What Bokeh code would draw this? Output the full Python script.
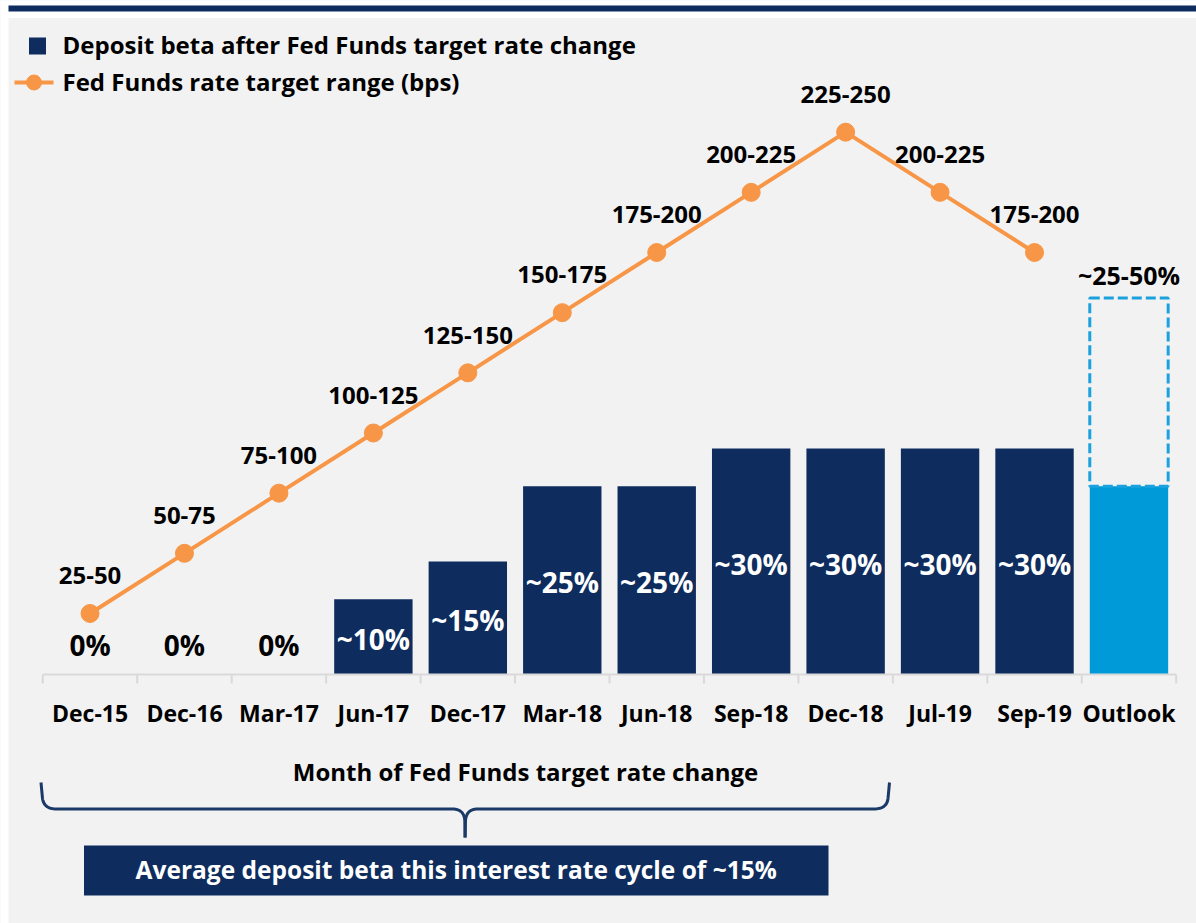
import numpy as np
from bokeh.plotting import figure
from bokeh.models import Range1d
from bokeh.core.properties import value
from bokeh.embed import file_html
from bokeh.resources import INLINE

# ---------------- data ----------------
categories = ["Dec-15", "Dec-16", "Mar-17", "Jun-17", "Dec-17", "Mar-18",
              "Jun-18", "Sep-18", "Dec-18", "Jul-19", "Sep-19", "Outlook"]
deposit_beta = [0, 0, 0, 10, 15, 25, 25, 30, 30, 30, 30, 25]
beta_labels = ["0%", "0%", "0%", "~10%", "~15%", "~25%", "~25%",
               "~30%", "~30%", "~30%", "~30%", ""]
fed_categories = ["Dec-15", "Dec-16", "Mar-17", "Jun-17", "Dec-17", "Mar-18",
                  "Jun-18", "Sep-18", "Dec-18", "Jul-19", "Sep-19"]
fed_low = [25, 50, 75, 100, 125, 150, 175, 200, 225, 200, 175]
fed_high = [50, 75, 100, 125, 150, 175, 200, 225, 250, 225, 200]
outlook_range = [25, 50]
outlook_label = "~25-50%"
legend_labels = ["Deposit beta after Fed Funds target rate change",
                 "Fed Funds rate target range (bps)"]
axis_title = "Month of Fed Funds target rate change"
callout_text = "Average deposit beta this interest rate cycle of ~15%"

# ---------------- styles ----------------
NAVY = "#0e2d5e"
BLUE = "#009ad9"
DASH_BLUE = "#1ba1de"
ORANGE = "#f79646"
BG = "#f2f2f2"
FONT = value("Open Sans")
SHIFT = 0.43        # empirical baseline correction (fraction of font size)

# pixel geometry of the page (used only for placement/decoration)
CW = 94.45          # category width in px
X_LEFT = 42.3       # page x of left category boundary
BASE = 674.0        # page y of the zero line
PPP = 7.53          # px per percentage point
BPS_ZERO = 733.3    # page y of 0 bps
PPB = 2.4065        # px per bp


def xd(px):
    return -0.5 + (px - X_LEFT) / CW


def yd(py):
    return (BASE - py) / PPP


def bd(py):
    return (BPS_ZERO - py) / PPB


W, H = 1196, 923
p = figure(width=W, height=H,
           x_range=Range1d(xd(0), xd(W)),
           y_range=Range1d(yd(H), yd(0)),
           output_backend="svg", toolbar_location=None,
           x_axis_location=None, y_axis_location=None,
           min_border=0, min_border_left=0, min_border_right=0,
           min_border_top=0, min_border_bottom=0,
           background_fill_color=BG, border_fill_color="white",
           outline_line_color=None)
p.extra_y_ranges = {"bps": Range1d(bd(H), bd(0))}
p.xgrid.visible = False
p.ygrid.visible = False

# page frame: white margins + navy top rule
p.quad(left=[xd(0)], right=[xd(W)], top=[yd(0)], bottom=[yd(17.5)],
       fill_color="white", line_color=None)
p.quad(left=[xd(0)], right=[xd(8)], top=[yd(0)], bottom=[yd(H)],
       fill_color="white", line_color=None)
p.quad(left=[xd(8)], right=[xd(W)], top=[yd(5)], bottom=[yd(11)],
       fill_color=NAVY, line_color=None)

# ---------------- bars ----------------
n = len(categories)
idx = list(range(n))
bar_colors = [BLUE if c == "Outlook" else NAVY for c in categories]
BAR_W = 0.83
p.vbar(x=idx, top=deposit_beta, bottom=0, width=BAR_W,
       fill_color=bar_colors, line_color=None)

oi = categories.index("Outlook")
p.quad(left=[oi - BAR_W / 2], right=[oi + BAR_W / 2],
       bottom=[outlook_range[0]], top=[outlook_range[1]],
       fill_alpha=0, line_color=DASH_BLUE, line_width=3, line_dash="10 4")
fs = 25
p.text(x=[oi], y=[outlook_range[1] + (12 + SHIFT * fs) / PPP], text=[outlook_label],
       text_font=FONT, text_font_style="bold", text_font_size=f"{fs}px",
       text_align="center", text_baseline="alphabetic", text_color="black")

# bar value labels
fs = 28
lab_y = [(v / 2 - (14 - SHIFT * fs) / PPP) if v else (17 + SHIFT * fs) / PPP
         for v in deposit_beta]
lab_c = ["white" if v else "black" for v in deposit_beta]
p.text(x=idx, y=lab_y, text=beta_labels, text_color=lab_c,
       text_font=FONT, text_font_style="bold", text_font_size=f"{fs}px",
       text_align="center", text_baseline="alphabetic")

# ---------------- axis ----------------
p.segment(x0=[-0.5], x1=[n - 0.5], y0=[0], y1=[0],
          line_color="#d9d9d9", line_width=2)
bounds = [i - 0.5 for i in range(n + 1)]
p.segment(x0=bounds, x1=bounds, y0=[0] * len(bounds),
          y1=[-9 / PPP] * len(bounds), line_color="#d9d9d9", line_width=2)
fs = 23
p.text(x=idx, y=[yd(722 - SHIFT * fs)] * n, text=categories, text_color="black",
       text_font=FONT, text_font_style="bold", text_font_size=f"{fs}px",
       text_align="center", text_baseline="alphabetic")

# ---------------- fed funds line ----------------
fidx = [categories.index(c) for c in fed_categories]
p.line(x=fidx, y=fed_high, y_range_name="bps", line_color=ORANGE, line_width=4)
p.scatter(x=fidx, y=fed_high, y_range_name="bps", size=18,
          fill_color=ORANGE, line_color=ORANGE)
fed_text = [f"{lo}-{hi}" for lo, hi in zip(fed_low, fed_high)]
fs = 24
p.text(x=fidx, y=[v + (27.5 + SHIFT * fs) / PPB for v in fed_high], y_range_name="bps",
       text=fed_text, text_color="black",
       text_font=FONT, text_font_style="bold", text_font_size=f"{fs}px",
       text_align="center", text_baseline="alphabetic")

# ---------------- legend (manual) ----------------
p.scatter(x=[xd(37)], y=[yd(45.5)], marker="square", size=17,
          fill_color=NAVY, line_color=None)
p.segment(x0=[xd(14)], x1=[xd(53)], y0=[yd(82)], y1=[yd(82)],
          line_color=ORANGE, line_width=4)
p.scatter(x=[xd(33.5)], y=[yd(82)], size=15, fill_color=ORANGE, line_color=ORANGE)
fs = 24
p.text(x=[xd(62), xd(62)], y=[yd(54 - SHIFT * fs), yd(91 - SHIFT * fs)], text=legend_labels,
       text_color="black", text_font=FONT, text_font_style="bold",
       text_font_size=f"{fs}px", text_align="left", text_baseline="alphabetic")

# ---------------- axis title + brace + callout ----------------
fs = 24
p.text(x=[xd(525)], y=[yd(781.5 - SHIFT * fs)], text=[axis_title], text_color="black",
       text_font=FONT, text_font_style="bold", text_font_size=f"{fs}px",
       text_align="center", text_baseline="alphabetic")


def qbez(p0, c, p1, k=16):
    t = np.linspace(0, 1, k)
    xs = (1 - t) ** 2 * p0[0] + 2 * (1 - t) * t * c[0] + t ** 2 * p1[0]
    ys = (1 - t) ** 2 * p0[1] + 2 * (1 - t) * t * c[1] + t ** 2 * p1[1]
    return list(xs), list(ys)


HY = 808.5
left_x, left_y = [40.5, 42.0], [782, 798]
bx, by = qbez((42.0, 798), (43.5, HY), (56, HY))
left_x += bx; left_y += by
left_x += [452]; left_y += [HY]
bx, by = qbez((452, HY), (463.5, HY), (464.3, 820))
left_x += bx; left_y += by
left_x += [464.6]; left_y += [837]

right_x, right_y = [464.6, 465.0], [837, 820]
bx, by = qbez((465.0, 820), (466, HY), (477, HY))
right_x += bx; right_y += by
right_x += [873]; right_y += [HY]
bx, by = qbez((873, HY), (886.5, HY), (887.5, 798))
right_x += bx; right_y += by
right_x += [889]; right_y += [782]

p.multi_line(xs=[[xd(v) for v in left_x], [xd(v) for v in right_x]],
             ys=[[yd(v) for v in left_y], [yd(v) for v in right_y]],
             line_color="#1c3a68", line_width=3, line_join="round")

p.quad(left=[xd(83.5)], right=[xd(828)], top=[yd(845)], bottom=[yd(895)],
       fill_color=NAVY, line_color=None)
fs = 24.5
p.text(x=[xd(455.7)], y=[yd(879.3 - SHIFT * fs)], text=[callout_text], text_color="white",
       text_font=FONT, text_font_style="bold", text_font_size=f"{fs}px",
       text_align="center", text_baseline="alphabetic")

open("out.html", "w").write(file_html(p, INLINE))
